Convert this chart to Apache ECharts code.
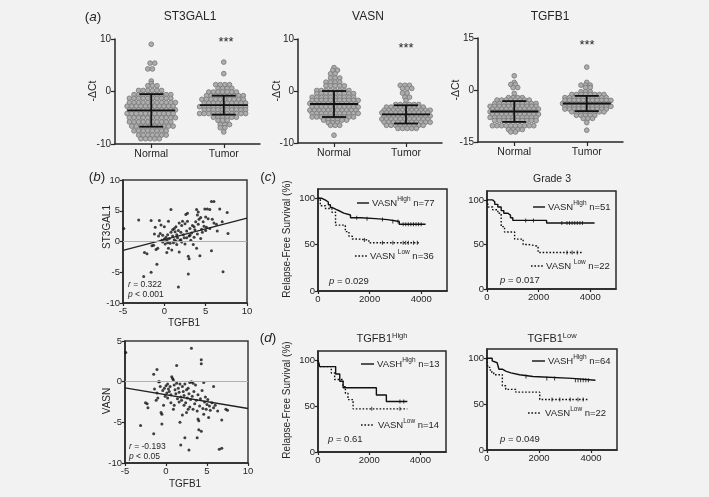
<!DOCTYPE html>
<html><head><meta charset="utf-8">
<script src="https://cdn.jsdelivr.net/npm/echarts@6/dist/echarts.min.js"></script>
<style>html,body{margin:0;padding:0;background:#f2f2f2}#c{width:709px;height:497px}</style>
</head><body><div id="c"></div>
<script>
// ---------------- DATA ----------------
const groupNames = ['Normal', 'Tumor'];
const genes = ['ST3GAL1', 'VASN', 'TGFB1'];

// -ΔCt values (one value per dot)
const st3Normal = [
  9.0, 5.4, 5.4, 4.3, 4.3, 2.0, 1.5, 1.1, 1.1, 1.1,
  0.2, 0.2, 0.2, 0.2, 0.2, 0.2,
  -0.6, -0.6, -0.6, -0.6, -0.6, -0.6, -0.6, -0.6, -0.6,
  -1.3, -1.3, -1.3, -1.3, -1.3, -1.3, -1.3, -1.3, -1.3, -1.3,
  -2.1, -2.1, -2.1, -2.1, -2.1, -2.1, -2.1, -2.1, -2.1, -2.1, -2.1,
  -2.8, -2.8, -2.8, -2.8, -2.8, -2.8, -2.8, -2.8, -2.8, -2.8, -2.8,
  -3.5, -3.5, -3.5, -3.5, -3.5, -3.5, -3.5, -3.5, -3.5, -3.5, -3.5,
  -4.2, -4.2, -4.2, -4.2, -4.2, -4.2, -4.2, -4.2, -4.2, -4.2, -4.2,
  -5.0, -5.0, -5.0, -5.0, -5.0, -5.0, -5.0, -5.0, -5.0, -5.0, -5.0,
  -5.8, -5.8, -5.8, -5.8, -5.8, -5.8, -5.8, -5.8, -5.8, -5.8,
  -6.6, -6.6, -6.6, -6.6, -6.6, -6.6, -6.6, -6.6, -6.6, -6.6,
  -7.5, -7.5, -7.5, -7.5, -7.5, -7.5, -7.5, -7.5,
  -8.3, -8.3, -8.3, -8.3, -8.3, -8.3, -8.3,
  -9.0, -9.0, -9.0, -9.0, -9.0
];
const st3Tumor = [
  5.6, 3.4,
  1.3, 1.3, 1.3, 1.3,
  0.6, 0.6, 0.6, 0.6,
  -0.1, -0.1, -0.1, -0.1, -0.1, -0.1, -0.1,
  -0.8, -0.8, -0.8, -0.8, -0.8, -0.8, -0.8, -0.8, -0.8,
  -1.5, -1.5, -1.5, -1.5, -1.5, -1.5, -1.5, -1.5, -1.5, -1.5,
  -2.2, -2.2, -2.2, -2.2, -2.2, -2.2, -2.2, -2.2, -2.2, -2.2,
  -2.9, -2.9, -2.9, -2.9, -2.9, -2.9, -2.9, -2.9, -2.9, -2.9, -2.9,
  -3.5, -3.5, -3.5, -3.5, -3.5, -3.5, -3.5, -3.5, -3.5, -3.5,
  -4.2, -4.2, -4.2, -4.2, -4.2, -4.2, -4.2, -4.2, -4.2, -4.2, -4.2,
  -4.9, -4.9, -4.9, -4.9, -4.9, -4.9,
  -5.5, -5.5, -5.5, -6.3, -6.3, -6.3, -6.9, -6.9, -7.7
];
const vasnNormal = [
  4.5, 4.0, 4.0, 3.3, 3.3, 2.5, 2.5, 2.5, 1.7, 1.7, 1.7, 1.7,
  1.0, 1.0, 1.0, 1.0, 1.0,
  0.1, 0.1, 0.1, 0.1, 0.1, 0.1, 0.1, 0.1,
  -0.5, -0.5, -0.5, -0.5, -0.5, -0.5, -0.5, -0.5, -0.5,
  -1.2, -1.2, -1.2, -1.2, -1.2, -1.2, -1.2, -1.2, -1.2, -1.2,
  -1.8, -1.8, -1.8, -1.8, -1.8, -1.8, -1.8, -1.8, -1.8, -1.8, -1.8,
  -2.4, -2.4, -2.4, -2.4, -2.4, -2.4, -2.4, -2.4, -2.4, -2.4, -2.4,
  -3.1, -3.1, -3.1, -3.1, -3.1, -3.1, -3.1, -3.1, -3.1, -3.1, -3.1,
  -3.7, -3.7, -3.7, -3.7, -3.7, -3.7, -3.7, -3.7, -3.7, -3.7, -3.7,
  -4.3, -4.3, -4.3, -4.3, -4.3, -4.3, -4.3, -4.3, -4.3, -4.3, -4.3,
  -5.0, -5.0, -5.0, -5.0, -5.0, -5.0, -5.0, -5.0, -5.0, -5.0,
  -5.6, -5.6, -5.6, -5.6, -5.6, -5.6,
  -6.1, -6.1, -6.1, -6.6, -6.6, -6.6, -8.5
];
const vasnTumor = [
  1.1, 1.1, 1.1, 0.5, 0.5, 0.5, -0.4, -0.4, -1.2, -1.2, -1.8,
  -2.6, -2.6, -2.6, -2.6, -2.6, -2.6,
  -3.1, -3.1, -3.1, -3.1, -3.1, -3.1, -3.1, -3.1, -3.1,
  -3.7, -3.7, -3.7, -3.7, -3.7, -3.7, -3.7, -3.7, -3.7, -3.7, -3.7,
  -4.2, -4.2, -4.2, -4.2, -4.2, -4.2, -4.2, -4.2, -4.2, -4.2, -4.2,
  -4.8, -4.8, -4.8, -4.8, -4.8, -4.8, -4.8, -4.8, -4.8, -4.8, -4.8,
  -5.4, -5.4, -5.4, -5.4, -5.4, -5.4, -5.4, -5.4, -5.4, -5.4, -5.4,
  -6.0, -6.0, -6.0, -6.0, -6.0, -6.0, -6.0, -6.0, -6.0, -6.0, -6.0,
  -6.6, -6.6, -6.6, -6.6, -6.6, -6.6, -6.6, -6.6, -6.6,
  -7.2, -7.2, -7.2, -7.2, -7.2
];
const tgfNormal = [
  4.1, 2.2, 1.6, 1.6, 0.7, 0.7, -1.0,
  -2.2, -2.2, -2.2, -2.2,
  -2.9, -2.9, -2.9, -2.9, -2.9, -2.9, -2.9, -2.9,
  -3.9, -3.9, -3.9, -3.9, -3.9, -3.9, -3.9, -3.9, -3.9, -3.9,
  -4.7, -4.7, -4.7, -4.7, -4.7, -4.7, -4.7, -4.7, -4.7, -4.7, -4.7,
  -5.5, -5.5, -5.5, -5.5, -5.5, -5.5, -5.5, -5.5, -5.5, -5.5, -5.5,
  -6.3, -6.3, -6.3, -6.3, -6.3, -6.3, -6.3, -6.3, -6.3, -6.3, -6.3,
  -7.0, -7.0, -7.0, -7.0, -7.0, -7.0, -7.0, -7.0, -7.0, -7.0, -7.0,
  -7.9, -7.9, -7.9, -7.9, -7.9, -7.9, -7.9, -7.9, -7.9, -7.9, -7.9,
  -8.8, -8.8, -8.8, -8.8, -8.8, -8.8, -8.8, -8.8, -8.8, -8.8,
  -10.3, -10.3, -10.3, -10.3, -10.3, -10.3, -10.3, -10.3, -10.3, -10.3,
  -11.4, -11.4, -11.4, -11.4, -12.1, -12.1
];
const tgfTumor = [
  6.6, 2.2, 1.4, 1.4, 1.4, 0.7, 0.7, -0.5, -0.5, -0.5,
  -1.3, -1.3, -1.3, -1.3, -1.3, -1.3, -1.3, -1.3,
  -2.2, -2.2, -2.2, -2.2, -2.2, -2.2, -2.2, -2.2, -2.2, -2.2,
  -3.0, -3.0, -3.0, -3.0, -3.0, -3.0, -3.0, -3.0, -3.0, -3.0, -3.0,
  -3.9, -3.9, -3.9, -3.9, -3.9, -3.9, -3.9, -3.9, -3.9, -3.9, -3.9,
  -4.7, -4.7, -4.7, -4.7, -4.7, -4.7, -4.7, -4.7, -4.7, -4.7, -4.7,
  -5.5, -5.5, -5.5, -5.5, -5.5, -5.5, -5.5, -5.5, -5.5, -5.5,
  -6.3, -6.3, -6.3, -6.3, -6.3, -6.3, -6.3, -6.3,
  -7.3, -7.3, -7.3, -7.3, -7.3, -8.2, -8.2, -8.2, -9.4, -11.6
];
// mean and SD drawn as lines [Normal, Tumor]
const st3Mean = [-3.6, -2.6], st3SD = [3.1, 1.8];
const vasnMean = [-2.5, -4.5], vasnSD = [2.5, 1.75];
const tgfMean = [-6.2, -3.9], tgfSD = [3.0, 2.2];
const dotYTicks = [[-10, 10, 10], [-10, 10, 10], [-15, 15, 15]];

// (b) correlation scatter: [TGFB1, ST3GAL1]
const corrSt3 = [
  [-4.9,2.1],[-3.1,3.5],[-2.5,-5.7],[-2.4,-1.8],[-2.1,-2.0],[-1.6,-5.0],[-1.6,3.4],[-1.5,-0.7],[-1.3,-0.6],[-1.2,1.2],
  [-1.1,2.3],[-1.0,-1.3],[-0.9,-3.7],[-0.8,-1.1],[-0.7,0.9],[-0.6,3.4],[-0.4,2.7],[-0.3,0.2],[-0.2,-0.1],[0.0,2.4],
  [0.0,0.4],[0.1,-0.4],[0.2,0.7],[0.3,-1.8],[0.3,0.2],[0.4,1.1],[0.5,3.3],[0.5,-1.1],[0.6,0.5],[0.7,-0.3],
  [0.8,5.2],[0.8,1.5],[0.9,-1.4],[1.0,0.9],[1.0,1.9],[1.1,-0.2],[1.2,0.3],[1.3,1.6],[1.4,2.4],[1.5,1.1],
  [1.5,-0.5],[1.6,0.6],[1.7,-7.4],[1.7,1.8],[1.8,-1.7],[1.8,3.0],[1.9,0.2],[2.0,1.5],[2.1,2.6],[2.1,-0.1],
  [2.2,3.3],[2.3,1.1],[2.4,0.6],[2.5,2.9],[2.5,-0.4],[2.6,4.4],[2.7,1.7],[2.8,4.6],[2.8,3.3],[2.9,-2.4],
  [2.9,-5.3],[3.0,-2.8],[3.0,0.9],[3.1,2.1],[3.2,0.2],[3.3,1.4],[3.4,2.6],[3.5,-0.5],[3.6,0.7],[3.7,1.9],
  [3.8,3.2],[3.9,5.2],[3.9,-1.1],[4.0,4.3],[4.0,1.2],[4.1,2.8],[4.2,3.6],[4.3,-2.3],[4.4,0.5],[4.4,3.9],
  [4.5,2.0],[4.6,1.5],[4.7,3.2],[4.8,2.5],[4.9,5.3],[5.0,4.0],[5.0,1.8],[5.1,2.3],[5.2,5.3],[5.3,3.7],
  [5.5,5.2],[5.5,2.1],[5.7,-1.5],[5.7,6.5],[5.8,3.6],[6.0,6.5],[6.0,3.0],[6.3,2.8],[6.4,1.7],[6.7,5.3],
  [7.0,3.2],[7.1,-4.9],[7.6,4.7],[7.7,1.3],[-0.5,1.3],[0.4,-0.2],[1.2,2.1],[2.0,0.3],[3.1,1.0],[3.6,2.4],
  [1.4,0.1],[2.7,0.6],[-0.2,1.0],[4.1,4.8]
];
// (b) correlation scatter: [TGFB1, VASN]
const corrVasn = [
  [-4.9,3.6],[3.1,4.1],[4.3,2.7],[4.3,2.2],[1.3,2.0],[-1.1,1.5],[-1.5,0.9],[-0.9,0.0],[-0.8,0.0],[0.7,0.6],
  [0.8,0.4],[0.9,0.2],[2.9,-0.1],[3.1,0.0],[3.3,-0.2],[4.6,-0.1],[5.8,-0.6],[-1.4,-0.9],[-1.1,-1.4],[-2.5,-2.6],
  [-2.3,-2.7],[-2.2,-3.2],[-1.2,-2.3],[-3.1,-5.4],[-1.5,-6.4],[-0.5,-5.2],[-0.6,-3.8],[-0.5,-4.0],[1.7,-5.0],[2.3,-6.9],
  [1.8,-7.8],[2.8,-8.4],[3.8,-6.9],[4.0,-5.9],[4.3,-6.1],[3.9,-4.6],[4.0,-4.8],[5.2,-4.4],[6.8,-4.7],[6.5,-8.3],
  [6.8,-8.2],[7.3,-3.4],[7.5,-3.5],[3.8,-3.6],[2.7,-3.4],[2.9,-3.1],
  [0.0,-0.5],[0.2,-0.3],[0.3,-0.9],[0.4,-1.2],[0.5,-0.6],[0.6,-1.6],[0.1,-1.4],[-0.2,-0.8],[-0.1,-1.8],[0.2,-2.0],
  [1.0,-0.4],[1.1,-1.0],[1.2,-1.5],[1.3,-0.2],[1.4,-2.1],[1.5,-0.8],[1.6,-1.3],[1.7,-0.3],[1.8,-1.9],[1.9,-2.3],
  [2.0,-0.6],[2.1,-1.2],[2.2,-1.7],[2.3,-0.3],[2.4,-2.6],[2.5,-1.0],[2.6,-2.0],[2.7,-0.8],[2.8,-1.5],[3.0,-2.2],
  [3.2,-1.8],[3.4,-1.2],[3.5,-2.7],[3.6,-0.4],[3.7,-2.3],[3.9,-1.6],[4.1,-3.0],[4.2,-2.1],[4.4,-1.1],[4.5,-3.3],
  [4.7,-2.5],[4.8,-1.9],[4.9,-3.4],[5.0,-2.8],[5.1,-2.2],[5.3,-3.0],[5.4,-3.5],[5.6,-2.6],[5.8,-3.2],[6.0,-2.9],
  [6.3,-3.6],[-0.4,-1.1],[-0.7,-0.6],[0.6,-2.6],[1.0,-2.9],[1.6,-2.5],[2.2,-2.9],[3.3,-3.4],[4.6,-4.0],[2.5,-3.8],
  [2.0,-4.1],[-1.0,-2.0],[-0.3,-2.9],[0.9,-3.4]
];
// linear fit [intercept, slope]
const fitSt3 = [0.3, 0.35];
const fitVasn = [-1.6, -0.17];
const statsSt3 = ['0.322', '< 0.001'];
const statsVasn = ['-0.193', '< 0.05'];

// (c)/(d) Kaplan-Meier curves: time (days) and survival (%)
const c1HighT = [0,150,290,400,480,560,700,860,1000,1260,1650,2230,2700,3150,4170];
const c1HighS = [100,98,96,93,90,88,86,84,82,79,78,77,75,72,72];
const c1LowT  = [0,90,290,540,680,1060,1200,1330,1550,1970,3910];
const c1LowS  = [100,92,89,85,71,64,59,56,55,52,52];
const c2HighT = [0,220,300,420,550,650,810,910,1000,2310,4170];
const c2HighS = [100,98,95,92,88,85,83,80,77,74,74];
const c2LowT  = [0,50,220,420,550,680,1070,1400,1590,1980,3740];
const c2LowS  = [100,92,89,85,70,64,56,50,48,41,41];
const d1HighT = [0,65,690,850,980,2280,2670,3490];
const d1HighS = [100,93,85,77,70,62,55,55];
const d1LowT  = [0,65,520,650,980,1070,1170,1370,3490];
const d1LowS  = [100,93,86,79,71,64,57,47,47];
const d2HighT = [0,200,260,390,460,590,720,920,1250,1770,3280,4170];
const d2HighS = [100,97,95,93,88,86,84,82,80,78,76,76];
const d2LowT  = [0,30,130,260,590,720,1110,2030,3930];
const d2LowS  = [100,90,85,82,70,66,63,55,55];
// censoring times
const c1HighC = [1500,1900,2500,2900,3100,3300,3400,3500,3600,3700,3800,3900,4000];
const c1LowC  = [1800,2500,2900,3300,3400,3500,3700,3850];
const c2HighC = [1500,1800,2900,3100,3200,3300,3400,3500,3600,3700];
const c2LowC  = [3100,3300,3500];
const d1HighC = [3200,3350];
const d1LowC  = [2100,3200];
const d2HighC = [1500,2300,2600,3400,3500,3600,3700,3800,3900];
const d2LowC  = [2500,2800,3200,3500,3700];

// ---------------- CHART ----------------
const FONT = '"Liberation Sans", Arial, Helvetica, sans-serif';
const INK = '#262626';
const chart = echarts.init(document.getElementById('c'), null, {renderer: 'canvas'});

const grids = [], xAxes = [], yAxes = [], series = [], graphics = [];
function addGrid(g) { grids.push(Object.assign({containLabel: false}, g)); return grids.length - 1; }
const axLine = {show: true, onZero: false, lineStyle: {color: INK, width: 1.5}};
const axTick = (vals, len) => ({show: true, length: len || 4, customValues: vals, lineStyle: {color: INK, width: 1.2}});
const plain = v => String(v);

// ---- (a) dot plots ----
const dotGrids = [
  {left: 115, top: 39, width: 145, height: 105},
  {left: 298, top: 39, width: 144, height: 104},
  {left: 478, top: 38, width: 145, height: 104}
];
const dotSets = [[st3Normal, st3Tumor], [vasnNormal, vasnTumor], [tgfNormal, tgfTumor]];
const meanSets = [[st3Mean, st3SD], [vasnMean, vasnSD], [tgfMean, tgfSD]];
const DOT_GAP = 4.6;

function swarm(vals, center, unitsPerPx) {
  const rows = new Map();
  vals.forEach(v => { const k = v.toFixed(2); if (!rows.has(k)) rows.set(k, []); rows.get(k).push(v); });
  const out = [];
  let r = 0;
  rows.forEach(row => {
    const n = row.length;
    const shift = n > 1 ? (r % 2 ? 0.25 : -0.25) : 0;
    row.forEach((v, i) => out.push([center + (i - (n - 1) / 2 + shift) * DOT_GAP * unitsPerPx, v]));
    r++;
  });
  return out;
}

dotGrids.forEach((g, gi) => {
  const gid = addGrid(g);
  const [ymin, ymax, yint] = dotYTicks[gi];
  xAxes.push({gridIndex: gid, type: 'value', min: 0, max: 2, axisLine: axLine,
    axisTick: axTick([0.5, 1.5], 4), splitLine: {show: false},
    axisLabel: {customValues: [0.5, 1.5], formatter: v => groupNames[v < 1 ? 0 : 1], fontFamily: FONT, fontSize: 10.5, color: INK, margin: 5}});
  yAxes.push({gridIndex: gid, type: 'value', min: ymin, max: ymax, interval: yint, axisLine: axLine,
    axisTick: {show: true, length: 4, lineStyle: {color: INK, width: 1.2}}, splitLine: {show: false},
    axisLabel: {fontFamily: FONT, fontSize: 10, color: INK, margin: 4}});
  const upp = 2 / g.width;
  dotSets[gi].forEach((vals, k) => {
    series.push({type: 'scatter', xAxisIndex: gid, yAxisIndex: gid, data: swarm(vals, 0.5 + k, upp),
      symbolSize: 4.7, itemStyle: {color: '#adadad', borderColor: '#7d7d7d', borderWidth: 0.9, opacity: 1}, z: 2, silent: true});
  });
  const [m, s] = meanSets[gi];
  series.push({type: 'custom', xAxisIndex: gid, yAxisIndex: gid, z: 5, silent: true,
    data: [[0.5, m[0], s[0]], [1.5, m[1], s[1]]],
    renderItem: (params, api) => {
      const c = api.coord([api.value(0), api.value(1)]);
      const t = api.coord([api.value(0), api.value(1) + api.value(2)]);
      const b = api.coord([api.value(0), api.value(1) - api.value(2)]);
      const st = {stroke: '#111', lineWidth: 1.8};
      return {type: 'group', children: [
        {type: 'line', shape: {x1: c[0] - 24, y1: c[1], x2: c[0] + 24, y2: c[1]}, style: st},
        {type: 'line', shape: {x1: c[0], y1: t[1], x2: c[0], y2: b[1]}, style: st},
        {type: 'line', shape: {x1: c[0] - 12, y1: t[1], x2: c[0] + 12, y2: t[1]}, style: st},
        {type: 'line', shape: {x1: c[0] - 12, y1: b[1], x2: c[0] + 12, y2: b[1]}, style: st}
      ]};
    }});
});

// ---- (b) scatter ----
const corrDefs = [
  {g: {left: 123, top: 180, width: 124, height: 123}, data: corrSt3, fit: fitSt3, ymin: -10, ymax: 10},
  {g: {left: 125, top: 341, width: 123, height: 122}, data: corrVasn, fit: fitVasn, ymin: -10, ymax: 5}
];
corrDefs.forEach(d => {
  const gid = addGrid(Object.assign({show: true, borderColor: '#3a3a3a', borderWidth: 1.5, backgroundColor: 'transparent'}, d.g));
  xAxes.push({gridIndex: gid, type: 'value', min: -5, max: 10, interval: 5, axisLine: axLine,
    axisTick: {show: true, length: 3, lineStyle: {color: INK, width: 1.2}}, splitLine: {show: false},
    axisLabel: {fontFamily: FONT, fontSize: 9.5, color: INK, margin: 3}});
  yAxes.push({gridIndex: gid, type: 'value', min: d.ymin, max: d.ymax, interval: 5, axisLine: axLine,
    axisTick: {show: true, length: 3, lineStyle: {color: INK, width: 1.2}}, splitLine: {show: false},
    axisLabel: {fontFamily: FONT, fontSize: 9.5, color: INK, margin: 3}});
  series.push({type: 'scatter', xAxisIndex: gid, yAxisIndex: gid, data: d.data, symbolSize: 3,
    itemStyle: {color: '#111'}, silent: true, z: 3,
    markLine: {silent: true, symbol: 'none', label: {show: false}, lineStyle: {color: '#b0b0b0', width: 1, type: 'solid'}, data: [{yAxis: 0}]}});
  series.push({type: 'line', xAxisIndex: gid, yAxisIndex: gid, showSymbol: false, silent: true, z: 4,
    data: [[-5, d.fit[0] + d.fit[1] * -5], [10, d.fit[0] + d.fit[1] * 10]],
    lineStyle: {color: '#222', width: 1.3}});
});

// ---- (c)/(d) KM ----
function km(T, S) { return T.map((t, i) => [t, S[i]]); }
function survAt(T, S, t) { let s = S[0]; for (let i = 0; i < T.length; i++) if (T[i] <= t) s = S[i]; return s; }
const kmDefs = [
  {g: {left: 318, top: 189, width: 129, height: 102}, hi: [c1HighT, c1HighS, c1HighC], lo: [c1LowT, c1LowS, c1LowC]},
  {g: {left: 487, top: 191, width: 129, height: 98}, hi: [c2HighT, c2HighS, c2HighC], lo: [c2LowT, c2LowS, c2LowC]},
  {g: {left: 318, top: 351, width: 128, height: 101}, hi: [d1HighT, d1HighS, d1HighC], lo: [d1LowT, d1LowS, d1LowC]},
  {g: {left: 487, top: 349, width: 130, height: 101}, hi: [d2HighT, d2HighS, d2HighC], lo: [d2LowT, d2LowS, d2LowC]}
];
kmDefs.forEach(d => {
  const gid = addGrid(Object.assign({show: true, borderColor: '#2a2a2a', borderWidth: 1.5, backgroundColor: 'transparent'}, d.g));
  xAxes.push({gridIndex: gid, type: 'value', min: 0, max: 5000, axisLine: axLine,
    axisTick: axTick([0, 2000, 4000], 3), splitLine: {show: false},
    axisLabel: {customValues: [0, 2000, 4000], formatter: plain, fontFamily: FONT, fontSize: 9.5, color: INK, margin: 3}});
  yAxes.push({gridIndex: gid, type: 'value', min: 0, max: 110, axisLine: axLine,
    axisTick: axTick([0, 50, 100], 3), splitLine: {show: false},
    axisLabel: {customValues: [0, 50, 100], formatter: plain, fontFamily: FONT, fontSize: 9.5, color: INK, margin: 3}});
  [[d.hi, 'solid'], [d.lo, [1.6, 1.8]]].forEach(([c, type]) => {
    series.push({type: 'line', xAxisIndex: gid, yAxisIndex: gid, step: 'end', showSymbol: false, silent: true,
      data: km(c[0], c[1]), lineStyle: {color: '#111', width: 1.4, type: type}, z: 3});
    series.push({type: 'scatter', xAxisIndex: gid, yAxisIndex: gid, silent: true, symbol: 'rect', symbolSize: [1, 4],
      data: c[2].map(t => [t, survAt(c[0], c[1], t)]), itemStyle: {color: '#111'}, z: 4});
  });
});

// ---- text ----
function txt(x, y, text, o) {
  o = o || {};
  graphics.push({type: 'text', x: x, y: y, rotation: o.rot || 0, silent: true, z: 10,
    style: Object.assign({text: text, fill: INK, fontFamily: FONT, fontSize: o.size || 10,
      fontStyle: o.italic ? 'italic' : 'normal', align: o.align || 'center', verticalAlign: 'middle', rich: o.rich}, o.style || {})});
}
function line(x1, y1, x2, y2, dash) {
  graphics.push({type: 'line', silent: true, z: 10, shape: {x1, y1, x2, y2},
    style: {stroke: '#111', lineWidth: 1.4, lineDash: dash || null}});
}
const richKM = {
  a: {fontFamily: FONT, fontSize: 9.5, lineHeight: 14, color: INK},
  s: {fontFamily: FONT, fontSize: 6.5, lineHeight: 7, verticalAlign: 'top', color: INK},
  i: {fontFamily: FONT, fontSize: 9.5, lineHeight: 14, color: INK, fontStyle: 'italic'}
};
const richT = {
  a: {fontFamily: FONT, fontSize: 11, lineHeight: 15, color: INK},
  s: {fontFamily: FONT, fontSize: 7.5, lineHeight: 8, verticalAlign: 'top', color: INK}
};
const richLbl = {p: {fontFamily: FONT, fontSize: 13.5, color: INK}, i: {fontFamily: FONT, fontSize: 13.5, fontStyle: 'italic', color: INK}};

// (a)
txt(93, 17, '', {rich: richLbl, style: {text: '{p|(}{i|a}{p|)}'}});
genes.forEach((gname, i) => txt([190, 368, 550][i], 17, gname, {size: 12}));
[[93, 91], [277, 91], [456, 90]].forEach(p => txt(p[0], p[1], '-ΔCt', {size: 10.5, rot: Math.PI / 2}));
[[226, 42], [406, 48], [587, 45]].forEach(p => txt(p[0], p[1], '***', {size: 13}));

// (b)
txt(97, 177, '', {rich: richLbl, style: {text: '{p|(}{i|b}{p|)}'}});
txt(107, 227, 'ST3GAL1', {size: 10, rot: Math.PI / 2});
txt(107, 401, 'VASN', {size: 10, rot: Math.PI / 2});
txt(184, 323, 'TGFB1', {size: 10});
txt(185, 484, 'TGFB1', {size: 10});
const richS = {a: {fontFamily: FONT, fontSize: 8.5, color: INK}, i: {fontFamily: FONT, fontSize: 8.5, fontStyle: 'italic', color: INK}};
txt(128, 285, '', {align: 'left', rich: richS, style: {text: '{i|r}{a| = ' + statsSt3[0] + '}'}});
txt(128, 295, '', {align: 'left', rich: richS, style: {text: '{i|p}{a| ' + statsSt3[1] + '}'}});
txt(129, 447, '', {align: 'left', rich: richS, style: {text: '{i|r}{a| = ' + statsVasn[0] + '}'}});
txt(129, 457, '', {align: 'left', rich: richS, style: {text: '{i|p}{a| ' + statsVasn[1] + '}'}});

// (c)/(d)
txt(268, 177, '', {rich: richLbl, style: {text: '{p|(}{i|c}{p|)}'}});
txt(268, 338, '', {rich: richLbl, style: {text: '{p|(}{i|d}{p|)}'}});
txt(287, 239, 'Relapse-Free Survival (%)', {size: 10, rot: Math.PI / 2});
txt(287, 400, 'Relapse-Free Survival (%)', {size: 10, rot: Math.PI / 2});
txt(552, 179, 'Grade 3', {size: 10.5});
txt(382, 339, '', {rich: richT, style: {text: '{a|TGFB1}{s|High}'}});
txt(552, 339, '', {rich: richT, style: {text: '{a|TGFB1}{s|Low}'}});

const legends = [
  {hl: [357, 369, 203], ht: [372, '{a|VASN}{s|High}{a| n=77}'], ll: [355, 367, 256], lt: [370, '{a|VASN }{s|Low}{a| n=36}'], p: [329, 281, '0.029']},
  {hl: [533, 545, 207], ht: [548, '{a|VASN}{s|High}{a| n=51}'], ll: [531, 543, 266], lt: [546, '{a|VASN }{s|Low}{a| n=22}'], p: [500, 280, '0.017']},
  {hl: [361, 374, 364], ht: [377, '{a|VASH}{s|High}{a| n=13}'], ll: [361, 373, 425], lt: [378, '{a|VASN}{s|Low}{a| n=14}'], p: [328, 439, '0.61']},
  {hl: [532, 545, 361], ht: [548, '{a|VASH}{s|High}{a| n=64}'], ll: [528, 541, 413], lt: [545, '{a|VASN}{s|Low}{a| n=22}'], p: [500, 439, '0.049']}
];
legends.forEach(L => {
  line(L.hl[0], L.hl[2], L.hl[1], L.hl[2]);
  line(L.ll[0], L.ll[2], L.ll[1], L.ll[2], [1.6, 1.8]);
  txt(L.ht[0], L.hl[2], '', {align: 'left', rich: richKM, style: {text: L.ht[1]}});
  txt(L.lt[0], L.ll[2], '', {align: 'left', rich: richKM, style: {text: L.lt[1]}});
  txt(L.p[0], L.p[1], '', {align: 'left', rich: richKM, style: {text: '{i|p}{a| = ' + L.p[2] + '}'}});
});

chart.setOption({
  backgroundColor: '#f2f2f2',
  animation: false,
  grid: grids, xAxis: xAxes, yAxis: yAxes, series: series, graphic: {elements: graphics}
});
</script></body></html>
